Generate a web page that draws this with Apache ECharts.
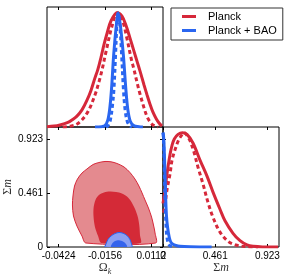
<!DOCTYPE html>
<html><head><meta charset="utf-8">
<style>html,body{margin:0;padding:0;background:#fff}#c{width:289px;height:280px}</style>
<script src="https://cdn.jsdelivr.net/npm/echarts@6/dist/echarts.min.js"></script>
</head><body><div id="c"></div>
<script>
// ---- tick values / labels ----
const omegaTicks = [-0.0424, -0.0156, 0.0112];
const omegaTickLabels = ['-0.0424', '-0.0156', '0.0112'];
const mnuTicks = [0, 0.4615, 0.923];
const mnuTickLabels = ['0', '0.461', '0.923'];
const omegaRange = [-0.0491, 0.0179];
const mnuRange = [0, 1.0256];

// ---- 1D posteriors for Omega_k (value, normalised density) ----
const omegaPlanck = [[-0.0491,0.003],[-0.0450,0.008],[-0.0416,0.018],[-0.0370,0.04],[-0.0347,0.061],[-0.0318,0.095],[-0.0289,0.15],[-0.0260,0.235],[-0.0237,0.32],[-0.0214,0.43],[-0.0198,0.50],[-0.0179,0.61],[-0.0162,0.72],[-0.0144,0.82],[-0.0121,0.93],[-0.0085,1.0],[-0.0058,0.97],[-0.0035,0.89],[-0.0012,0.78],[0.0012,0.66],[0.0030,0.57],[0.0048,0.48],[0.0069,0.37],[0.0087,0.28],[0.0104,0.20],[0.0121,0.13],[0.0139,0.075],[0.0156,0.035],[0.0173,0.008]];
const omegaPlanckAlt = [[-0.0400,0],[-0.0370,0.004],[-0.0318,0.025],[-0.0260,0.12],[-0.0214,0.28],[-0.0190,0.40],[-0.0173,0.50],[-0.0150,0.66],[-0.0116,0.88],[-0.0085,1.0],[-0.0055,0.93],[-0.0030,0.78],[-0.0005,0.60],[0.0012,0.50],[0.0029,0.39],[0.0046,0.29],[0.0069,0.17],[0.0087,0.09],[0.0104,0.045],[0.0121,0.018],[0.0150,0]];
const omegaBAO = [[-0.0214,0],[-0.0175,0.003],[-0.0156,0.012],[-0.0140,0.06],[-0.0128,0.17],[-0.0118,0.34],[-0.0106,0.63],[-0.0090,0.90],[-0.0080,1.0],[-0.0068,0.90],[-0.0050,0.63],[-0.0036,0.34],[-0.0024,0.15],[-0.0010,0.05],[0.0010,0.012],[0.0040,0.002],[0.0063,0]];
const omegaBAOAlt = [[-0.0150,0],[-0.0139,0.01],[-0.0125,0.06],[-0.0112,0.20],[-0.0104,0.34],[-0.0095,0.63],[-0.0087,0.90],[-0.0080,1.0],[-0.0071,0.90],[-0.0060,0.63],[-0.0050,0.34],[-0.0040,0.15],[-0.0027,0.046],[-0.0012,0.01],[0.0000,0]];

// ---- 1D posteriors for Sigma m ----
const mnuPlanck = [[0.0,0.38],[0.009,0.44],[0.018,0.50],[0.030,0.60],[0.044,0.70],[0.062,0.81],[0.080,0.89],[0.100,0.945],[0.133,0.985],[0.172,1.0],[0.212,0.985],[0.265,0.91],[0.327,0.76],[0.389,0.62],[0.442,0.48],[0.504,0.33],[0.548,0.23],[0.619,0.12],[0.681,0.055],[0.743,0.018],[0.800,0.006],[0.880,0.001],[1.017,0]];
const mnuPlanckAlt = [[0.005,0.30],[0.0177,0.37],[0.0354,0.50],[0.062,0.64],[0.080,0.76],[0.106,0.85],[0.133,0.925],[0.159,0.97],[0.186,1.0],[0.212,0.977],[0.239,0.93],[0.274,0.83],[0.309,0.70],[0.354,0.55],[0.398,0.39],[0.442,0.26],[0.504,0.13],[0.575,0.05],[0.637,0.02],[0.725,0.004],[0.840,0]];
const mnuBAO = [[0,1.0],[0.004,0.98],[0.009,0.90],[0.018,0.63],[0.027,0.34],[0.035,0.22],[0.047,0.13],[0.062,0.06],[0.080,0.03],[0.115,0.013],[0.150,0.006],[0.24,0.002],[0.43,0]];
const mnuBAOAlt = [[0,1.0],[0.006,0.90],[0.012,0.65],[0.018,0.40],[0.025,0.22],[0.033,0.10],[0.045,0.035],[0.062,0.01],[0.09,0]];

// ---- 2D contours (Omega_k, Sigma m) ----
const planckOuter = [[-0.0266,0.034],[-0.0289,0.094],[-0.0318,0.179],[-0.0338,0.265],[-0.0344,0.359],[-0.0341,0.436],[-0.0332,0.521],[-0.0315,0.581],[-0.0289,0.632],[-0.0260,0.667],[-0.0225,0.705],[-0.0191,0.722],[-0.0156,0.731],[-0.0121,0.728],[-0.0087,0.714],[-0.0046,0.684],[-0.0012,0.637],[0.0017,0.581],[0.0040,0.521],[0.0058,0.462],[0.0075,0.402],[0.0095,0.333],[0.0113,0.256],[0.0124,0.188],[0.0133,0.120],[0.0136,0.034]];
const planckInner = [[-0.0176,0.034],[-0.0196,0.094],[-0.0214,0.171],[-0.0222,0.256],[-0.0222,0.333],[-0.0211,0.402],[-0.0191,0.444],[-0.0162,0.466],[-0.0127,0.474],[-0.0092,0.470],[-0.0058,0.457],[-0.0023,0.423],[0.0000,0.376],[0.0020,0.316],[0.0035,0.248],[0.0043,0.171],[0.0046,0.103],[0.0049,0.034]];
const baoOuter = [[-0.0156,0],[-0.0150,0.026],[-0.0139,0.064],[-0.0121,0.094],[-0.0098,0.115],[-0.0075,0.124],[-0.0052,0.118],[-0.0029,0.098],[-0.0012,0.064],[-0.0003,0.026],[0.0000,0]];
const baoInner = [[-0.0121,0],[-0.0116,0.026],[-0.0098,0.051],[-0.0075,0.057],[-0.0052,0.047],[-0.0035,0.026],[-0.0029,0]];

const RED = '#D6283A', RED_LIGHT = '#E48A8F', RED_DARK = '#D42A37';
const BLUE = '#2A66F0', BLUE_LIGHT = '#8CA0F2', BLUE_DARK = '#3563EC';
const SANS = 'Liberation Sans', SERIF = 'Liberation Serif';

function tickAxis(gridIndex, range, values, pos, extra) {
  return Object.assign({
    type: 'value', gridIndex, min: range[0], max: range[1], position: pos,
    axisLine: {show: false, onZero: false}, splitLine: {show: false},
    axisTick: {show: true, inside: true, length: 3, customValues: values, lineStyle: {color: '#000', width: 1}},
    axisLabel: {show: false}
  }, extra || {});
}
function labelFmt(vals, labels) {
  return function (v) {
    for (let i = 0; i < vals.length; i++) if (Math.abs(v - vals[i]) < 1e-6) return labels[i];
    return '';
  };
}
function line(name, data, color, xi, yi, dashed, z) {
  return {
    type: 'line', name, data, xAxisIndex: xi, yAxisIndex: yi, smooth: 0.35, showSymbol: false, symbol: 'none',
    color, itemStyle: {color}, z: z,
    lineStyle: {color, width: 3, type: dashed ? [4, 3] : 'solid', cap: 'butt'}, silent: true
  };
}
function contour(name, pts, fill, stroke, z) {
  return {
    type: 'custom', name, data: pts, xAxisIndex: 2, yAxisIndex: 1, clip: true, z: z, silent: true,
    encode: {x: 0, y: 1},
    renderItem: function (params, api) {
      if (params.dataIndex !== 0) return null;
      const p = pts.map(function (d) { return api.coord(d); });
      return {type: 'polygon', shape: {points: p, smooth: 0.3},
        style: {fill: fill, stroke: stroke || fill, lineWidth: stroke ? 1 : 0}};
    }
  };
}

const chart = echarts.init(document.getElementById('c'), null, {renderer: 'canvas'});
const tickLabel = {fontFamily: SANS, fontSize: 10, color: '#000'};
chart.setOption({
  animation: false,
  backgroundColor: '#fff',
  grid: [
    {left: 47, top: 7, width: 116, height: 120, show: true, borderColor: '#000', borderWidth: 1},
    {left: 47, top: 127, width: 116, height: 120, show: true, borderColor: '#000', borderWidth: 1},
    {left: 163, top: 127, width: 116, height: 120, show: true, borderColor: '#000', borderWidth: 1}
  ],
  xAxis: [
    tickAxis(0, omegaRange, omegaTicks, 'bottom'),
    tickAxis(0, omegaRange, omegaTicks, 'top'),
    tickAxis(1, omegaRange, omegaTicks, 'bottom', {
      axisLabel: Object.assign({show: true, margin: 4, customValues: omegaTicks, formatter: labelFmt(omegaTicks, omegaTickLabels)}, tickLabel),
      name: '{a|Ω}{b|k}', nameLocation: 'middle', nameGap: 13,
      nameTextStyle: {rich: {a: {fontFamily: SERIF, fontSize: 12, color: '#333'}, b: {fontFamily: SERIF, fontSize: 8, fontStyle: 'italic', color: '#333', padding: [7, 0, 0, 0]}}}
    }),
    tickAxis(1, omegaRange, omegaTicks, 'top'),
    tickAxis(2, mnuRange, mnuTicks, 'bottom', {
      axisLabel: Object.assign({show: true, margin: 4, customValues: mnuTicks, formatter: labelFmt(mnuTicks, mnuTickLabels)}, tickLabel),
      name: '{s|Σ}{m|m}', nameLocation: 'middle', nameGap: 14,
      nameTextStyle: {rich: {s: {fontFamily: SERIF, fontSize: 12, color: '#333'}, m: {fontFamily: SERIF, fontSize: 12, fontStyle: 'italic', color: '#333'}}}
    }),
    tickAxis(2, mnuRange, mnuTicks, 'top')
  ],
  yAxis: [
    {type: 'value', gridIndex: 0, min: 0, max: 1.05, show: false},
    tickAxis(1, mnuRange, mnuTicks, 'left', {
      axisLabel: Object.assign({show: true, margin: 4, customValues: mnuTicks, formatter: labelFmt(mnuTicks, mnuTickLabels)}, tickLabel),
      name: '{s|Σ}{m|m}', nameLocation: 'middle', nameGap: 33, nameRotate: 90,
      nameTextStyle: {rich: {s: {fontFamily: SERIF, fontSize: 12, color: '#333'}, m: {fontFamily: SERIF, fontSize: 12, fontStyle: 'italic', color: '#333'}}}
    }),
    tickAxis(1, mnuRange, mnuTicks, 'right'),
    {type: 'value', gridIndex: 2, min: 0, max: 1.05, show: false},
    tickAxis(2, mnuRange, [0.4615, 0.923], 'left')
  ],
  legend: {
    orient: 'vertical', left: 171, top: 8, selectedMode: false,
    data: ['Planck', 'Planck + BAO'], icon: 'rect', itemWidth: 14, itemHeight: 3, itemGap: 3,
    padding: [3, 6, 4, 11], borderColor: '#333', borderWidth: 1, backgroundColor: '#fff',
    textStyle: {fontFamily: SANS, fontSize: 11, color: '#000', padding: [0, 0, 0, 7]}
  },
  series: [
    line('Planck', omegaPlanck, RED, 0, 0, false, 2),
    line('Planck', omegaPlanckAlt, RED, 0, 0, true, 2),
    line('Planck + BAO', omegaBAO, BLUE, 0, 0, false, 3),
    line('Planck + BAO', omegaBAOAlt, BLUE, 0, 0, true, 3),
    contour('Planck 2D outer', planckOuter, RED_LIGHT, RED, 2),
    contour('Planck 2D inner', planckInner, RED_DARK, null, 2),
    contour('BAO 2D outer', baoOuter, BLUE_LIGHT, BLUE, 3),
    contour('BAO 2D inner', baoInner, BLUE_DARK, null, 3),
    line('Planck', mnuPlanck, RED, 4, 3, false, 2),
    line('Planck', mnuPlanckAlt, RED, 4, 3, true, 2),
    line('Planck + BAO', mnuBAO, BLUE, 4, 3, false, 3),
    line('Planck + BAO', mnuBAOAlt, BLUE, 4, 3, true, 3)
  ]
});
</script></body></html>
